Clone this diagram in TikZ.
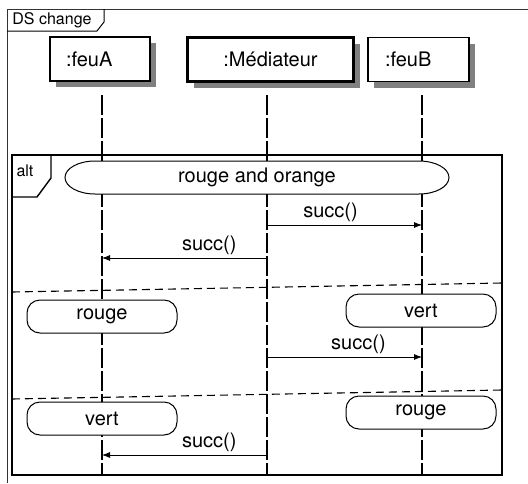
\documentclass[tikz,border=0pt]{standalone}
\usepackage{fontspec}
\setmainfont{TeX Gyre Heros}
\usetikzlibrary{arrows.meta,shadows}

\begin{document}
\begin{tikzpicture}[x=1pt,y=-1pt,font=\fontsize{20}{24}\selectfont,
  obj/.style={draw,line width=1.4pt,fill=white,minimum height=44pt,
    drop shadow={shadow xshift=6pt,shadow yshift=-6pt,fill=black!50,opacity=1}},
  life/.style={line width=2pt,dash pattern=on 20pt off 3pt},
  msg/.style={line width=0.8pt,-{Latex[length=8pt,width=6pt]}},
  state/.style={draw,line width=1pt,fill=white,rounded corners=13pt,
    minimum width=150pt,minimum height=33pt},
  sep/.style={line width=1.1pt,dash pattern=on 8pt off 5pt}]
  \useasboundingbox (0,0) rectangle (528,483);

  \draw[line width=1pt,black!80] (528,9) -- (7,9) -- (7,483);
  \draw[line width=1pt] (7,31) -- (97,31) -- (104,22) -- (104,9);
  \node[font=\fontsize{16}{19}\selectfont] (ds) at (52,20) {DS change};

  \draw[line width=1.4pt] (12,155) rectangle (502,475);
  \draw[line width=1.4pt] (12,197) -- (37,197) -- (51,178) -- (51,155);
  \node[font=\fontsize{16}{19}\selectfont] (alt) at (25,171) {alt};

  \foreach \n/\x in {a/102,m/267,b/422}{
    \coordinate (\n0) at (\x,95);
    \coordinate (\n1) at (\x,475);
    \draw[life] (\n0) -- (\n1);
  }

  \node[obj,text width=68pt,inner xsep=16pt,align=left] (feuA) at (100,59) {:feuA};
  \node[obj,line width=3pt,minimum width=166pt] (med) at (270.5,59.5) {:Médiateur};
  \node[obj,text width=67pt,inner xsep=17pt,align=left] (feuB) at (418.5,59.5) {:feuB};

  \draw[line width=1pt,fill=white] (95,161) -- (419,161)
    arc[start angle=90,end angle=-90,x radius=30pt,y radius=16.5pt] -- (95,194)
    arc[start angle=270,end angle=90,x radius=30pt,y radius=16.5pt] -- cycle;
  \node (guard) at (257,177.5) {rouge and orange};

  \foreach \x/\y/\name/\txt in {102/316.5/ra/rouge, 421/310.5/vb/vert,
      102/418.5/va/vert, 421/412.5/rb/rouge}
    \node[state] (\name) at (\x,\y) {\txt};

  \foreach \y/\s/\t/\p in {225/m/b/0.41, 258/m/a/0.35, 357/m/b/0.59, 455/m/a/0.35}
    \draw[msg] (\s0 |- 0,\y) -- node[pos=\p,above,inner sep=3pt] (lab\y) {succ()} (\t0 |- 0,\y);

  \foreach \i/\yl/\yr in {1/292/283, 2/399/390}{
    \coordinate (s\i l) at (12,\yl);
    \coordinate (s\i r) at (502,\yr);
    \draw[sep] (s\i l) -- (s\i r);
  }
\end{tikzpicture}
\end{document}
